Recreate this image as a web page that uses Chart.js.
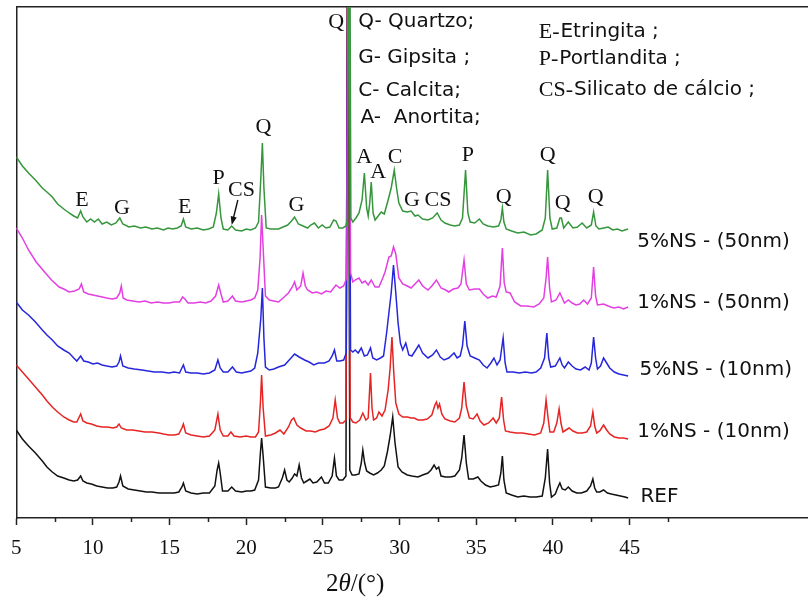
<!DOCTYPE html>
<html>
<head>
<meta charset="utf-8">
<script src="https://cdn.jsdelivr.net/npm/chart.js@4.4.1/dist/chart.umd.min.js"></script>
<style>
  html, body { margin: 0; padding: 0; background: #fff; overflow: hidden; }
  canvas { display: block; }
</style>
</head>
<body>
<canvas id="xrd" width="808" height="597"></canvas>
<script>
// X-ray diffraction patterns, stacked; each pair is [2θ (°), intensity (a.u., offset included)]
const ns5_50 = [[5.0,361],[5.4,352],[5.8,345],[6.25,338],[6.7,330],[7.0,326],[7.35,321],[7.7,314],[8.1,309],[8.45,305],[8.75,302],[9.0,300],[9.2,307],[9.35,301],[9.6,296],[9.85,299],[10.1,296],[10.35,299],[10.6,294],[10.9,296],[11.2,293],[11.5,295],[11.75,300],[11.95,294],[12.35,291],[12.7,292],[13.1,290],[13.45,291],[13.85,289],[14.2,290],[14.6,288],[14.9,290],[15.2,289],[15.5,290],[15.75,292],[15.9,299],[16.05,291],[16.4,289],[16.8,290],[17.2,288],[17.55,289],[17.85,291],[18.05,305],[18.2,324],[18.35,300],[18.5,289],[18.8,288],[19.05,292],[19.3,288],[19.7,287],[20.0,289],[20.3,288],[20.6,290],[20.8,296],[20.95,340],[21.05,375],[21.15,330],[21.3,290],[21.6,289],[22.1,289],[22.4,291],[22.7,293],[22.95,297],[23.15,301],[23.4,294],[23.7,292],[24.0,290],[24.2,293],[24.45,295],[24.7,290],[24.95,293],[25.2,290],[25.45,291],[25.7,298],[25.85,297],[26.05,290],[26.3,290],[26.5,292],[26.6,300],[26.72,720],[26.82,300],[26.95,296],[27.15,300],[27.35,305],[27.55,318],[27.7,345],[27.85,310],[27.95,302],[28.05,315],[28.15,336],[28.27,305],[28.4,298],[28.6,302],[28.8,306],[29.0,304],[29.25,318],[29.45,330],[29.65,348],[29.8,330],[29.95,315],[30.2,307],[30.5,306],[30.75,307],[31.0,302],[31.2,303],[31.5,299],[31.85,298],[32.15,300],[32.45,305],[32.7,298],[32.95,295],[33.3,293],[33.6,292],[33.9,293],[34.1,300],[34.3,348],[34.45,305],[34.6,296],[34.9,295],[35.2,299],[35.45,294],[35.75,292],[36.1,291],[36.45,292],[36.6,298],[36.7,310],[36.8,296],[36.95,289],[37.3,287],[37.7,285],[38.1,286],[38.55,283],[38.9,284],[39.3,288],[39.5,300],[39.65,348],[39.8,300],[39.95,289],[40.25,290],[40.45,300],[40.55,300],[40.7,290],[41.0,296],[41.3,290],[41.6,291],[41.9,295],[42.2,290],[42.5,293],[42.65,306],[42.8,292],[43.0,289],[43.3,290],[43.6,291],[43.9,288],[44.2,289],[44.5,287],[44.9,289]];
const ns1_50 = [[5.0,290],[5.4,280],[5.8,268],[6.3,256],[6.9,245],[7.3,238],[7.8,231],[8.1,229],[8.45,226],[8.8,227],[9.1,229],[9.25,234],[9.4,226],[9.7,224],[10.0,223],[10.3,222],[10.6,221],[10.9,220],[11.25,219],[11.55,220],[11.75,225],[11.85,232],[11.97,220],[12.2,218],[12.6,217],[13.0,216],[13.4,217],[13.8,215],[14.2,216],[14.6,215],[14.95,215],[15.3,216],[15.65,216],[15.85,221],[16.0,219],[16.2,215],[16.6,215],[17.0,216],[17.35,215],[17.7,217],[18.0,222],[18.2,233],[18.35,224],[18.5,216],[18.8,217],[19.1,222],[19.3,217],[19.7,216],[20.0,217],[20.3,218],[20.55,220],[20.75,228],[20.9,260],[21.0,303],[21.1,270],[21.25,222],[21.5,218],[21.8,217],[22.1,216],[22.4,220],[22.75,225],[23.0,231],[23.15,236],[23.3,228],[23.55,232],[23.7,245],[23.85,232],[24.0,228],[24.3,225],[24.6,226],[24.9,224],[25.2,227],[25.5,226],[25.85,233],[26.1,230],[26.35,232],[26.55,240],[26.68,720],[26.8,245],[26.95,236],[27.1,238],[27.35,240],[27.55,235],[27.75,237],[27.95,233],[28.15,238],[28.4,231],[28.65,231],[28.9,240],[29.05,246],[29.3,261],[29.45,262],[29.6,271],[29.75,264],[29.95,240],[30.2,234],[30.5,232],[30.75,230],[31.0,234],[31.25,238],[31.5,232],[31.85,228],[32.1,232],[32.4,238],[32.7,230],[33.0,228],[33.2,226],[33.5,229],[33.8,230],[34.0,234],[34.2,258],[34.35,234],[34.55,228],[34.9,229],[35.2,229],[35.45,224],[35.75,220],[36.05,222],[36.3,221],[36.55,232],[36.7,270],[36.82,235],[36.95,226],[37.2,225],[37.5,216],[37.9,212],[38.3,212],[38.75,211],[39.1,214],[39.4,220],[39.55,240],[39.65,261],[39.78,230],[39.9,216],[40.2,218],[40.45,225],[40.6,220],[40.75,215],[41.0,218],[41.25,215],[41.5,213],[41.75,214],[42.0,218],[42.25,214],[42.5,220],[42.65,251],[42.78,222],[42.9,213],[43.3,214],[43.6,212],[43.95,210],[44.3,211],[44.6,209],[44.9,211]];
const ns5_10 = [[5.0,216],[5.4,208],[5.8,203],[6.25,196],[6.7,188],[7.0,183],[7.35,178],[7.7,172],[8.1,168],[8.45,165],[8.75,160],[8.95,157],[9.2,162],[9.4,157],[9.7,156],[10.0,154],[10.3,155],[10.6,153],[10.9,152],[11.25,151],[11.55,152],[11.7,156],[11.8,162],[11.95,152],[12.3,150],[12.7,149],[13.2,148],[13.6,147],[14.0,146],[14.5,146],[14.95,145],[15.3,146],[15.65,145],[15.8,150],[15.9,153],[16.05,146],[16.4,145],[16.8,145],[17.2,144],[17.6,145],[17.95,148],[18.15,158],[18.3,150],[18.5,146],[18.8,146],[19.1,151],[19.35,146],[19.7,145],[20.0,146],[20.3,147],[20.55,150],[20.75,165],[20.95,200],[21.05,230],[21.15,180],[21.25,151],[21.5,148],[21.8,149],[22.1,151],[22.5,153],[22.8,158],[23.15,164],[23.45,161],[23.8,158],[24.1,156],[24.4,153],[24.7,155],[25.1,155],[25.4,157],[25.6,162],[25.75,168],[25.9,157],[26.1,157],[26.35,158],[26.52,165],[26.66,720],[26.8,168],[26.95,166],[27.1,168],[27.3,165],[27.5,170],[27.7,162],[27.9,163],[28.1,170],[28.25,160],[28.5,158],[28.75,160],[28.95,162],[29.15,185],[29.3,205],[29.45,225],[29.6,253],[29.75,225],[29.9,195],[30.05,175],[30.2,168],[30.4,175],[30.6,163],[30.8,162],[31.05,168],[31.25,173],[31.5,165],[31.85,160],[32.15,163],[32.4,168],[32.65,161],[32.9,158],[33.2,160],[33.55,165],[33.75,160],[33.95,162],[34.1,172],[34.25,197],[34.4,172],[34.6,162],[34.9,160],[35.2,158],[35.45,153],[35.7,150],[35.95,155],[36.15,160],[36.35,153],[36.55,158],[36.75,180],[36.88,155],[37.0,146],[37.4,146],[37.8,145],[38.2,146],[38.6,145],[38.9,146],[39.2,150],[39.45,160],[39.6,185],[39.72,160],[39.85,151],[40.15,152],[40.45,160],[40.6,153],[40.75,150],[41.0,156],[41.25,152],[41.5,149],[41.8,148],[42.1,151],[42.35,148],[42.5,155],[42.65,181],[42.78,160],[42.9,149],[43.1,152],[43.3,160],[43.5,155],[43.7,150],[44.0,146],[44.3,144],[44.6,143],[44.9,142]];
const ns1_10 = [[5.0,153],[5.4,146],[5.8,139],[6.25,131],[6.7,123],[7.0,117],[7.35,111],[7.7,106],[8.1,101],[8.45,98],[8.75,96],[8.95,96],[9.2,104],[9.35,97],[9.6,95],[9.9,94],[10.25,92],[10.6,91],[10.95,91],[11.3,90],[11.55,91],[11.7,94],[11.85,90],[12.2,88],[12.6,88],[13.0,87],[13.4,86],[13.85,86],[14.3,85],[14.6,84],[14.95,83],[15.3,83],[15.6,84],[15.8,90],[15.9,94],[16.05,85],[16.4,83],[16.8,82],[17.2,81],[17.6,82],[17.95,88],[18.15,104],[18.3,88],[18.5,82],[18.8,82],[19.0,86],[19.2,82],[19.6,81],[20.0,82],[20.3,81],[20.6,81],[20.8,86],[20.92,115],[21.0,143],[21.1,110],[21.25,82],[21.6,83],[21.9,85],[22.2,88],[22.45,84],[22.75,91],[22.95,98],[23.1,100],[23.3,93],[23.55,90],[23.9,87],[24.2,87],[24.5,86],[24.8,88],[25.1,89],[25.4,92],[25.65,100],[25.8,118],[25.95,100],[26.1,95],[26.3,95],[26.5,98],[26.64,720],[26.78,100],[26.95,96],[27.15,95],[27.4,98],[27.6,105],[27.8,98],[27.95,100],[28.1,145],[28.2,110],[28.3,98],[28.5,100],[28.65,106],[28.85,102],[29.05,108],[29.25,128],[29.38,150],[29.5,181],[29.62,145],[29.75,115],[29.95,104],[30.2,101],[30.5,101],[30.75,100],[30.95,100],[31.2,98],[31.5,98],[31.8,99],[32.1,103],[32.3,113],[32.4,116],[32.5,110],[32.6,114],[32.75,104],[32.95,99],[33.3,97],[33.6,96],[33.9,100],[34.05,110],[34.2,136],[34.35,112],[34.55,100],[34.8,99],[35.05,104],[35.25,97],[35.5,93],[35.8,95],[36.1,100],[36.3,95],[36.5,100],[36.65,121],[36.78,98],[36.9,87],[37.2,86],[37.6,85],[38.0,85],[38.4,84],[38.8,83],[39.2,85],[39.4,95],[39.55,118],[39.68,100],[39.8,86],[40.05,86],[40.25,95],[40.4,109],[40.52,95],[40.65,86],[40.85,88],[41.05,90],[41.3,87],[41.6,85],[41.9,85],[42.2,86],[42.45,92],[42.6,106],[42.72,92],[42.85,85],[43.05,87],[43.3,93],[43.5,88],[43.7,84],[44.0,81],[44.3,80],[44.6,80],[44.9,79]];
const ref = [[5.0,88],[5.4,79],[5.8,72],[6.25,65],[6.7,57],[7.0,51],[7.35,46],[7.7,42],[8.1,40],[8.45,38],[8.75,37],[9.0,38],[9.2,42],[9.35,37],[9.6,35],[9.9,34],[10.25,32],[10.6,31],[10.95,30],[11.3,30],[11.55,31],[11.7,36],[11.8,42],[11.95,32],[12.3,29],[12.7,28],[13.1,27],[13.5,26],[13.85,26],[14.3,25],[14.6,25],[14.95,25],[15.3,25],[15.6,26],[15.8,31],[15.9,35],[16.05,27],[16.4,25],[16.8,24],[17.2,25],[17.6,25],[17.95,32],[18.1,48],[18.2,55],[18.3,45],[18.45,27],[18.8,27],[19.05,31],[19.3,27],[19.7,26],[20.0,27],[20.3,27],[20.55,28],[20.8,38],[20.92,65],[21.0,80],[21.1,62],[21.25,31],[21.6,30],[21.9,30],[22.1,31],[22.35,40],[22.5,48],[22.65,38],[22.8,36],[23.0,40],[23.15,44],[23.3,42],[23.45,53],[23.6,40],[23.75,35],[23.95,37],[24.15,39],[24.35,35],[24.6,36],[24.9,41],[25.1,35],[25.35,35],[25.6,42],[25.75,60],[25.88,42],[26.05,38],[26.3,38],[26.5,42],[26.62,720],[26.75,48],[26.9,43],[27.1,43],[27.35,44],[27.5,55],[27.6,68],[27.72,55],[27.85,47],[28.05,45],[28.3,43],[28.55,45],[28.8,48],[29.0,52],[29.2,66],[29.38,82],[29.55,101],[29.7,75],[29.9,51],[30.15,46],[30.5,43],[30.8,42],[31.2,41],[31.5,43],[31.85,45],[32.05,48],[32.25,53],[32.4,49],[32.55,51],[32.7,42],[33.0,41],[33.3,41],[33.6,42],[33.9,48],[34.05,60],[34.2,83],[34.35,55],[34.5,39],[34.8,39],[35.1,41],[35.3,37],[35.6,33],[35.9,31],[36.2,32],[36.45,33],[36.6,45],[36.7,62],[36.8,38],[36.95,25],[37.3,23],[37.7,21],[38.1,22],[38.5,21],[38.9,21],[39.3,22],[39.5,40],[39.65,69],[39.78,35],[39.9,21],[40.15,24],[40.3,30],[40.45,35],[40.6,29],[40.8,28],[41.0,31],[41.25,27],[41.55,25],[41.85,25],[42.2,27],[42.45,32],[42.6,39],[42.72,30],[42.85,26],[43.05,26],[43.3,28],[43.55,25],[43.8,24],[44.1,23],[44.4,22],[44.7,21],[44.9,20]];

const seriesNames  = ['5%NS - (50nm)', '1%NS - (50nm)', '5%NS - (10nm)', '1%NS - (10nm)', 'REF'];
const seriesData   = [ns5_50, ns1_50, ns5_10, ns1_10, ref];
const seriesColors = ['#36963c', '#e33fe3', '#2626dc', '#e62424', '#111111'];
// where each pattern's name sits: [2θ, intensity]
const seriesLabelAt = [[45.5,276],[45.5,215],[45.64,148],[45.5,86],[45.7,21]];

const majorTicks = [5, 10, 15, 20, 25, 30, 35, 40, 45];
const minorTicks = [7.5, 12.5, 17.5, 22.5, 27.5, 32.5, 37.5, 42.5, 47.5];

// phase markers above the peaks: [text, 2θ, intensity]
const peakMarks = [
  ['Q',25.87,496],['E',9.29,318],['G',11.89,310],['E',15.99,311],['P',18.2,340],
  ['CS',19.69,328],['Q',21.12,391],['G',23.27,313],['A',27.69,361],['A',28.6,346],
  ['C',29.71,361],['G',30.81,318],['CS',32.5,318],['P',34.45,363],['Q',36.79,321],
  ['Q',39.66,363],['Q',40.63,315],['Q',42.78,321]
];
// arrow from the CS mark down to its weak reflection: [2θ, intensity] tail, head
const csArrow = [[19.45,318],[19.05,293]];

// key of phases: [symbol part, name part, 2θ, intensity]
const phaseKeyLeft = [
  ['Q- ', 'Quartzo;', 27.3, 496],
  ['G- ', 'Gipsita ;', 27.3, 460],
  ['C- ', 'Calcita;', 27.3, 427],
  ['A-  ', 'Anortita;', 27.45, 400]
];
const phaseKeyRight = [
  ['E-', 'Etringita ;', 39.07, 486],
  ['P-', 'Portlandita ;', 39.07, 459],
  ['CS-', 'Silicato de cálcio ;', 39.07, 428]
];

const SERIF = '"Liberation Serif", "Times New Roman", serif';
const SANS  = '"DejaVu Sans", "Noto Sans", sans-serif';

const decor = {
  id: 'decor',
  afterDraw(chart) {
    const { ctx } = chart;
    const xs = chart.scales.x, ys = chart.scales.y;
    const X = v => xs.getPixelForValue(v);
    const Y = v => ys.getPixelForValue(v);
    ctx.save();

    // minor ticks
    ctx.strokeStyle = '#222';
    ctx.lineWidth = 1.5;
    const y0 = chart.chartArea.bottom;
    minorTicks.forEach(v => {
      const px = Math.round(X(v)) + 0.5;
      ctx.beginPath(); ctx.moveTo(px, y0); ctx.lineTo(px, y0 + 4); ctx.stroke();
    });

    // axis title 2θ/(°) with italic theta
    const parts = [['2', 'normal'], ['θ', 'italic'], ['/(°)', 'normal']];
    const fsz = 25;
    let total = 0;
    parts.forEach(([t, st]) => { ctx.font = `${st} ${fsz}px ${SERIF}`; total += ctx.measureText(t).width; });
    let tx = X(27.1) - total / 2;
    const ty = 584;
    ctx.fillStyle = '#111';
    ctx.textBaseline = 'middle';
    ctx.textAlign = 'left';
    parts.forEach(([t, st]) => {
      ctx.font = `${st} ${fsz}px ${SERIF}`;
      ctx.fillText(t, tx, ty);
      tx += ctx.measureText(t).width;
    });

    // peak markers
    ctx.font = `22px ${SERIF}`;
    ctx.textAlign = 'center';
    peakMarks.forEach(([t, x, y]) => ctx.fillText(t, X(x), Y(y)));

    // arrow
    const [[ax1, ay1], [ax2, ay2]] = csArrow;
    const x1 = X(ax1), y1 = Y(ay1), x2 = X(ax2), y2 = Y(ay2);
    const ang = Math.atan2(y2 - y1, x2 - x1);
    ctx.strokeStyle = '#111';
    ctx.lineWidth = 1.4;
    ctx.beginPath(); ctx.moveTo(x1, y1); ctx.lineTo(x2 - 6 * Math.cos(ang), y2 - 6 * Math.sin(ang)); ctx.stroke();
    ctx.beginPath();
    ctx.moveTo(x2, y2);
    ctx.lineTo(x2 - 9 * Math.cos(ang - 0.35), y2 - 9 * Math.sin(ang - 0.35));
    ctx.lineTo(x2 - 9 * Math.cos(ang + 0.35), y2 - 9 * Math.sin(ang + 0.35));
    ctx.closePath(); ctx.fill();

    // phase key
    ctx.textAlign = 'left';
    phaseKeyLeft.forEach(([a, b, x, y]) => {
      ctx.font = `20px ${SANS}`;
      const px = X(x), py = Y(y);
      ctx.fillText(a, px, py);
      ctx.fillText(b, px + ctx.measureText(a).width, py);
    });
    phaseKeyRight.forEach(([a, b, x, y]) => {
      const px = X(x), py = Y(y);
      ctx.font = `22px ${SERIF}`;
      ctx.fillText(a, px, py);
      const w = ctx.measureText(a).width;
      ctx.font = `20px ${SANS}`;
      ctx.fillText(b, px + w + 1, py);
    });

    // pattern names
    ctx.font = `20px ${SANS}`;
    seriesNames.forEach((n, i) => {
      const [x, y] = seriesLabelAt[i];
      ctx.fillText(n, X(x), Y(y));
    });

    ctx.restore();
  }
};

const axisLine = { display: true, color: '#222', width: 1.5 };

new Chart(document.getElementById('xrd'), {
  type: 'line',
  data: {
    datasets: seriesData.map((pts, i) => ({
      label: seriesNames[i],
      data: pts.map(([x, y]) => ({ x, y })),
      borderColor: seriesColors[i],
      borderWidth: 1.5,
      pointRadius: 0,
      tension: 0,
      fill: false
    }))
  },
  options: {
    responsive: false,
    animation: false,
    devicePixelRatio: 1,
    layout: { padding: { left: 14, top: 7, right: 0, bottom: 0 } },
    plugins: { legend: { display: false }, tooltip: { enabled: false } },
    scales: {
      x: {
        type: 'linear', position: 'bottom', min: 5, max: 56.63,
        afterBuildTicks: s => { s.ticks = majorTicks.map(v => ({ value: v })); },
        afterFit: s => { s.height = 79; },
        ticks: { font: { family: SERIF, size: 21 }, color: '#111', padding: 11, autoSkip: false, maxRotation: 0 },
        grid: { display: true, drawOnChartArea: false, drawTicks: true, tickLength: 7, tickColor: '#222', tickWidth: 1.5 },
        border: axisLine
      },
      x2: {
        type: 'linear', position: 'top', min: 5, max: 56.63,
        afterFit: s => { s.height = 0; },
        ticks: { display: false },
        grid: { display: true, drawOnChartArea: false, drawTicks: false },
        border: axisLine
      },
      y: {
        position: 'left', min: 0, max: 511,
        afterFit: s => { s.width = 0; },
        ticks: { display: false },
        grid: { display: true, drawOnChartArea: false, drawTicks: false },
        border: axisLine
      }
    }
  },
  plugins: [decor]
});
</script>
</body>
</html>
